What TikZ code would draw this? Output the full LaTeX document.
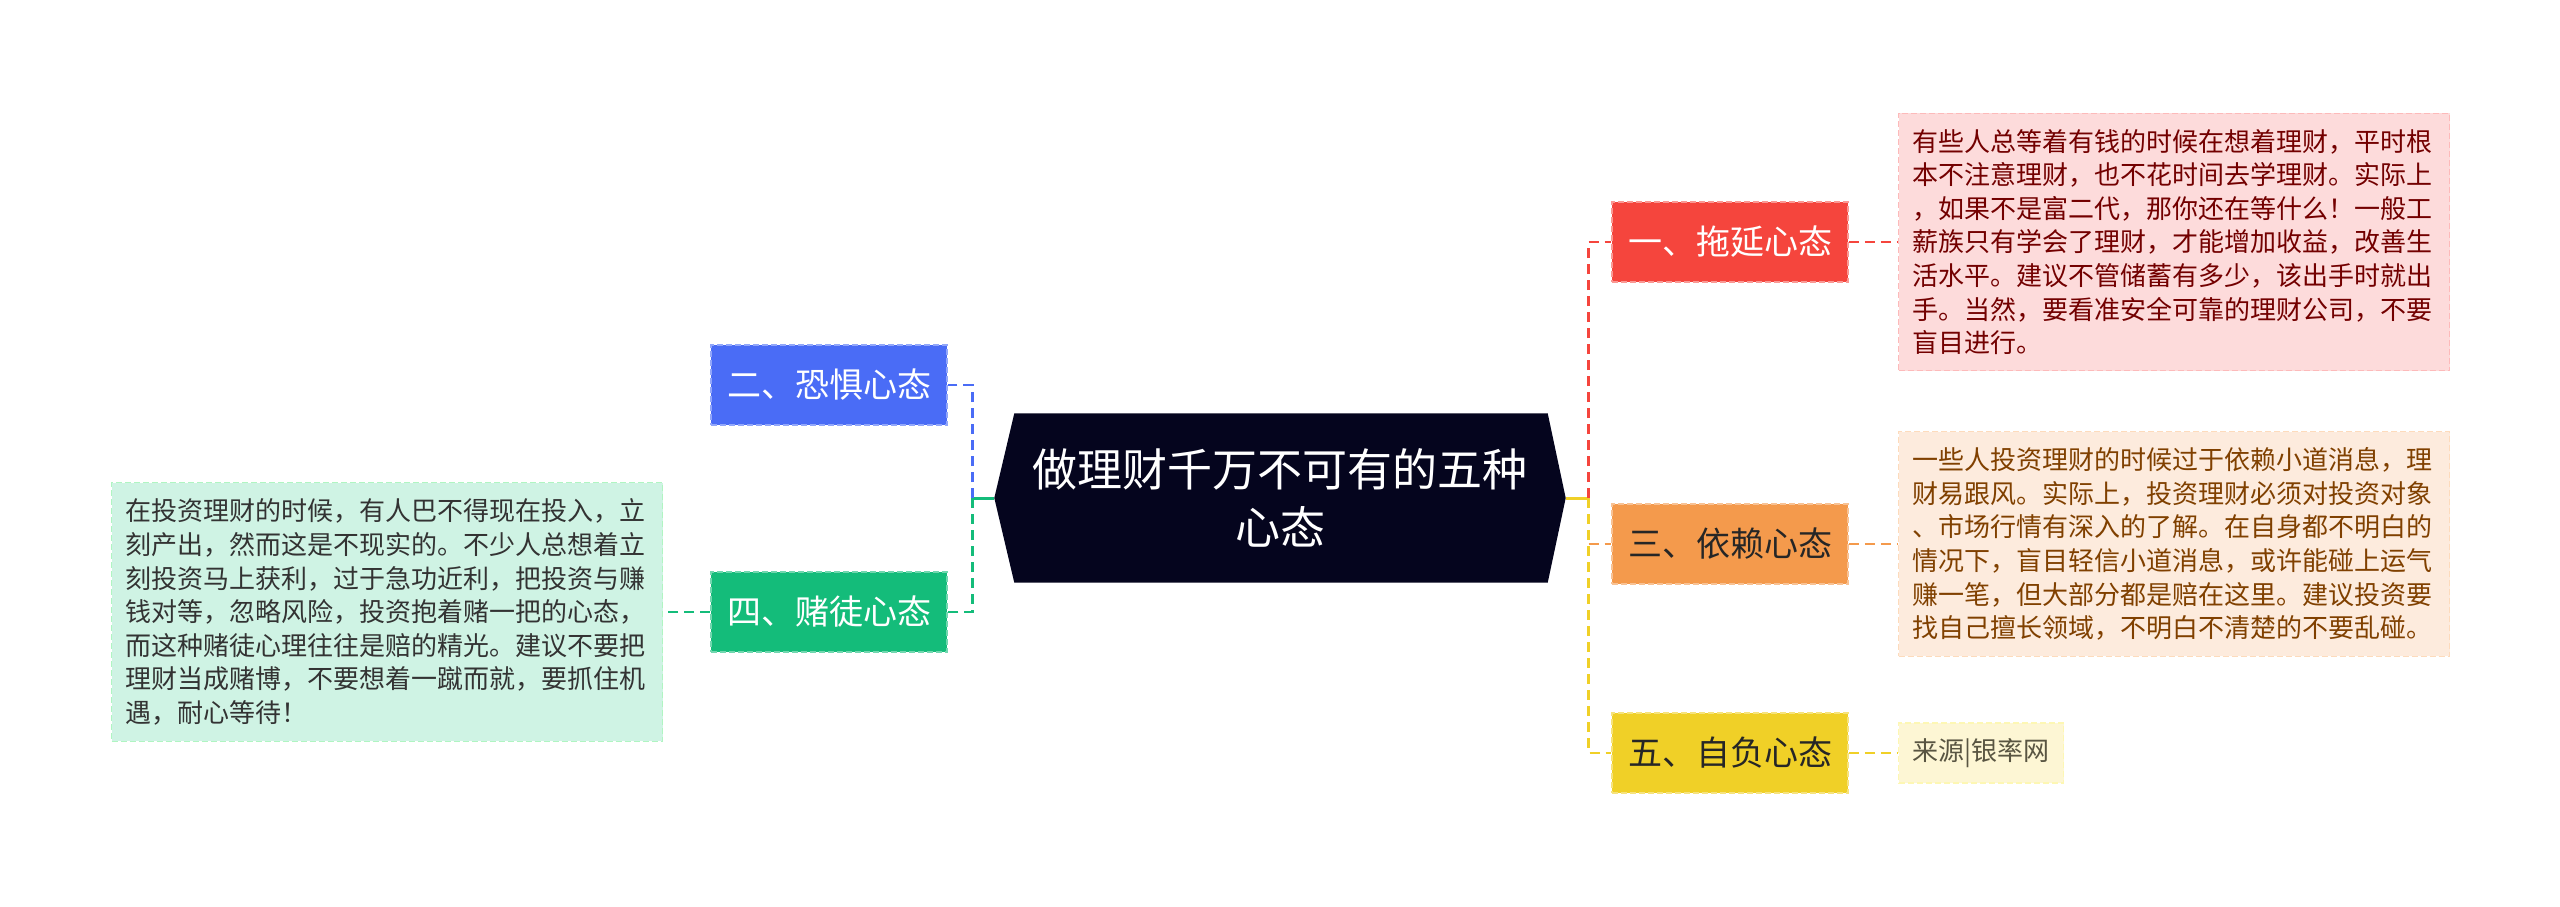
\documentclass[tikz,border=0pt]{standalone}
\usepackage{fontspec}
\setmainfont{Noto Sans CJK SC}
\usepackage{tikz}
\usetikzlibrary{positioning,calc,backgrounds}
\definecolor{MindNavy}{HTML}{05051E}
\definecolor{MindRed}{HTML}{F5453D}
\definecolor{MindOrange}{HTML}{F49A4C}
\definecolor{MindYellow}{HTML}{F0D027}
\definecolor{MindBlue}{HTML}{4A6CF6}
\definecolor{MindGreen}{HTML}{14BC7A}
\definecolor{NotePink}{HTML}{FDDBDB}
\definecolor{NotePeach}{HTML}{FDEBDD}
\definecolor{NoteMint}{HTML}{CFF3E4}
\definecolor{NoteCream}{HTML}{FDF6D4}
\tikzset{
  hubnode/.style={minimum width=571pt,minimum height=169pt,inner sep=0pt,align=center,text=white,font=\fontsize{45}{58}\selectfont},
  branchbox/.style={minimum width=236pt,minimum height=80pt,inner sep=0pt,dash pattern=on 6pt off 3pt,line width=1.8pt,font=\fontsize{34}{40}\selectfont},
  notebox/.style={align=left,inner xsep=14pt,inner ysep=16pt,dash pattern=on 6pt off 3pt,line width=1.2pt,font=\fontsize{26}{33.6}\selectfont},
  linkline/.style={line width=2.9pt,dash pattern=on 10pt off 6pt},
  stemline/.style={line width=3pt}
}
\begin{document}
\begin{tikzpicture}[x=1pt,y=-1pt,node distance=48pt]
\useasboundingbox (0,0) rectangle (2560,906);
\node[hubnode] (hub) at (1280,498) {做理财千万不可有的五种\\心态};
\begin{scope}[on background layer]
\fill[white] (0,0) rectangle (2560,906);
\fill[MindNavy] (hub.west) -- ($(hub.north west)+(20,0)$) -- ($(hub.north east)+(-18,0)$) -- (hub.east)
  -- ($(hub.south east)+(-18,0)$) -- ($(hub.south west)+(20,0)$) -- cycle;
\end{scope}

\node[branchbox,fill=MindRed,draw=MindRed!55!white,text=white] (delay) at (1730,242) {一、拖延心态};
\node[branchbox,fill=MindOrange,draw=MindOrange!60!white,text=black!85] (rely) at (1730,544) {三、依赖心态};
\node[branchbox,fill=MindYellow,draw=MindYellow!60!white,text=black!85] (pride) at (1730,753) {五、自负心态};
\node[branchbox,fill=MindBlue,draw=MindBlue!60!white,text=white] (fear) at (829,385) {二、恐惧心态};
\node[branchbox,fill=MindGreen,draw=MindGreen!60!white,text=white] (gamble) at (829,612) {四、赌徒心态};

\node[notebox,fill=NotePink,draw=NotePink!85!red,text=red!45!black,text width=523pt,right=49pt of delay] (delaynote)
  {有些人总等着有钱的时候在想着理财，平时根\\本不注意理财，也不花时间去学理财。实际上\\，如果不是富二代，那你还在等什么！一般工\\薪族只有学会了理财，才能增加收益，改善生\\活水平。建议不管储蓄有多少，该出手时就出\\手。当然，要看准安全可靠的理财公司，不要\\盲目进行。};
\node[notebox,fill=NotePeach,draw=NotePeach!85!orange,text=orange!50!black,text width=523pt,right=49pt of rely] (relynote)
  {一些人投资理财的时候过于依赖小道消息，理\\财易跟风。实际上，投资理财必须对投资对象\\、市场行情有深入的了解。在自身都不明白的\\情况下，盲目轻信小道消息，或许能碰上运气\\赚一笔，但大部分都是赔在这里。建议投资要\\找自己擅长领域，不明白不清楚的不要乱碰。};
\node[notebox,fill=NoteMint,draw=NoteMint!85!green,text=black!80,text width=523pt,left=47pt of gamble] (gamblenote)
  {在投资理财的时候，有人巴不得现在投入，立\\刻产出，然而这是不现实的。不少人总想着立\\刻投资马上获利，过于急功近利，把投资与赚\\钱对等，忽略风险，投资抱着赌一把的心态，\\而这种赌徒心理往往是赔的精光。建议不要把\\理财当成赌博，不要想着一蹴而就，要抓住机\\遇，耐心等待！};
\node[notebox,fill=NoteCream,draw=NoteCream!85!yellow,text=yellow!25!black,minimum height=60pt,inner ysep=0pt,right=49pt of pride] (source) {来源|银率网};

\draw[stemline,MindGreen] (hub.west) -- ++(-22,0) coordinate (lfork);
\draw[linkline,MindBlue] (lfork) |- (fear.east);
\draw[linkline,MindGreen] (lfork) |- (gamble.east);
\draw[linkline,MindGreen] (gamble.west) -- (gamblenote.east);
\draw[stemline,MindYellow] (hub.east) -- ++(23,0) coordinate (rfork);
\draw[linkline,MindRed] (rfork) |- (delay.west);
\draw[linkline,MindOrange] (rfork |- rely.west) -- (rely.west);
\draw[linkline,MindYellow] (rfork) |- (pride.west);
\draw[linkline,MindRed] (delay.east) -- (delaynote.west);
\draw[linkline,MindOrange] (rely.east) -- (relynote.west);
\draw[linkline,MindYellow] (pride.east) -- (source.west);
\end{tikzpicture}
\end{document}
